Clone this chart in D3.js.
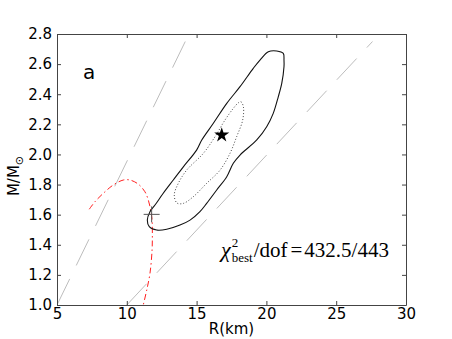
<!DOCTYPE html>
<html>
<head>
<meta charset="utf-8">
<script src="https://cdn.jsdelivr.net/npm/d3@7"></script>
<style>
  body { margin: 0; background: #fff; }
  svg { display: block; }
</style>
</head>
<body>
<script>
// axis ticks
const xTicks = [5, 10, 15, 20, 25, 30]
const yTicks = [1.0, 1.2, 1.4, 1.6, 1.8, 2.0, 2.2, 2.4, 2.6, 2.8]

// grey dashed bounds  [R, M]
const boundLeft = [[5, 1.0], [14.45, 2.8]]
const boundRight = [[10, 1.0], [27.6, 2.75]]

// red mass-radius curve
const eosCurve = [[7.31, 1.636], [7.72, 1.686], [8.32, 1.742], [9.03, 1.797], [9.75, 1.830],
  [10.23, 1.830], [10.82, 1.803], [11.30, 1.752], [11.54, 1.697], [11.71, 1.631],
  [11.81, 1.564], [11.83, 1.465], [11.81, 1.365], [11.66, 1.210], [11.43, 1.100], [11.18, 1.000]]

// outer (solid) confidence contour
const contourOuter = [[20.74, 2.687], [21.21, 2.671], [21.26, 2.627], [21.26, 2.582], [21.10, 2.472],
  [20.85, 2.383], [20.49, 2.273], [20.02, 2.184], [19.31, 2.096], [18.11, 1.996], [17.63, 1.941],
  [17.16, 1.852], [16.44, 1.764], [15.72, 1.675], [15.24, 1.620], [14.53, 1.564], [13.81, 1.531],
  [12.86, 1.503], [12.14, 1.498], [11.61, 1.520], [11.47, 1.564], [11.66, 1.620], [12.02, 1.664],
  [12.61, 1.742], [13.33, 1.830], [14.05, 1.918], [15.00, 2.029], [15.37, 2.096], [16.20, 2.207],
  [17.16, 2.339], [18.11, 2.450], [19.06, 2.572], [19.54, 2.627], [20.14, 2.682]]

// inner (dotted) contour
const contourInner = [[17.99, 2.343], [18.18, 2.350], [18.35, 2.317], [18.30, 2.228], [17.87, 2.118],
  [17.39, 2.007], [16.68, 1.896], [15.72, 1.808], [14.76, 1.719], [14.05, 1.675], [13.60, 1.677],
  [13.40, 1.730], [13.69, 1.808], [14.29, 1.896], [15.48, 2.007], [16.32, 2.118], [17.03, 2.228],
  [17.63, 2.306]]

const bestFit = [16.80, 2.129]
const crossPoint = [11.78, 1.602]

const width = 452, height = 339
const margin = {top: 34, right: 46, bottom: 34, left: 57}
const w = width - margin.left - margin.right
const h = height - margin.top - margin.bottom

const svg = d3.select('body').append('svg')
    .attr('width', width)
    .attr('height', height)

const x = d3.scaleLinear().domain([5, 30]).range([0, w])
const y = d3.scaleLinear().domain([1.0, 2.8]).range([h, 0])

svg.append('defs').append('clipPath').attr('id', 'clip')
    .append('rect').attr('width', w).attr('height', h)

const g = svg.append('g').attr('transform', `translate(${margin.left},${margin.top})`)
const plot = g.append('g').attr('clip-path', 'url(#clip)')

const line = d3.line().x(d => x(d[0])).y(d => y(d[1]))
const closed = d3.line().x(d => x(d[0])).y(d => y(d[1])).curve(d3.curveCatmullRomClosed)

// grey dashed lines
;[boundLeft, boundRight].forEach(b => {
    plot.append('path')
        .attr('d', line(b))
        .attr('fill', 'none')
        .attr('stroke', '#bdbdbd')
        .attr('stroke-width', 1)
        .attr('stroke-dasharray', '29,15')
})

// red dash-dot
plot.append('path')
    .attr('d', d3.line().x(d => x(d[0])).y(d => y(d[1])).curve(d3.curveCatmullRom)(eosCurve))
    .attr('fill', 'none')
    .attr('stroke', '#ff2020')
    .attr('stroke-width', 1)
    .attr('stroke-dasharray', '6,3,1.5,3')

plot.append('path')
    .attr('d', closed(contourOuter))
    .attr('fill', 'none')
    .attr('stroke', '#111')
    .attr('stroke-width', 1.1)

plot.append('path')
    .attr('d', closed(contourInner))
    .attr('fill', 'none')
    .attr('stroke', '#444')
    .attr('stroke-width', 1)
    .attr('stroke-dasharray', '1,2')

// cross marker
const cx = x(crossPoint[0]), cy = y(crossPoint[1])
plot.append('path')
    .attr('d', `M${cx - 8},${cy}H${cx + 8}M${cx},${cy - 8}V${cy + 8}`)
    .attr('stroke', '#555')
    .attr('stroke-width', 1)

// best fit star
plot.append('path')
    .attr('d', d3.symbol().type(d3.symbolStar).size(70)())
    .attr('transform', `translate(${x(bestFit[0])},${y(bestFit[1])})`)
    .attr('fill', '#000')

// axes
const frame = '#444'
const styleAxis = (sel) => {
    sel.select('.domain').attr('stroke', frame)
    sel.selectAll('.tick line').attr('stroke', frame)
    sel.selectAll('text').attr('fill', '#000')
        .attr('font-family', 'DejaVu Sans').attr('font-size', 15)
}
g.append('g').attr('transform', `translate(0,${h})`)
    .call(d3.axisBottom(x).tickValues(xTicks).tickSizeInner(-4).tickSizeOuter(0).tickPadding(3).tickFormat(d3.format('d')))
    .call(styleAxis)
g.append('g')
    .call(d3.axisLeft(y).tickValues(yTicks).tickSizeInner(-4).tickSizeOuter(0).tickPadding(5).tickFormat(d3.format('.1f')))
    .call(styleAxis)
g.append('g')
    .call(d3.axisTop(x).tickValues(xTicks).tickSizeInner(-4).tickSizeOuter(0).tickFormat(''))
    .call(styleAxis)
g.append('g').attr('transform', `translate(${w},0)`)
    .call(d3.axisRight(y).tickValues(yTicks).tickSizeInner(-4).tickSizeOuter(0).tickFormat(''))
    .call(styleAxis)
g.selectAll('.domain').attr('stroke-width', 1)

// labels
svg.append('text')
    .attr('x', margin.left + w / 2).attr('y', 334)
    .attr('text-anchor', 'middle')
    .attr('font-family', 'DejaVu Sans').attr('font-size', 15)
    .text('R(km)')

const yl = svg.append('text')
    .attr('transform', 'translate(19,176) rotate(-90)')
    .attr('text-anchor', 'middle')
    .attr('font-family', 'DejaVu Sans').attr('font-size', 15)
yl.append('tspan').text('M/M')
yl.append('tspan').attr('font-size', 11).attr('dy', 4).text('\u2299')

svg.append('text')
    .attr('x', 83).attr('y', 79)
    .attr('font-family', 'DejaVu Sans').attr('font-size', 20)
    .text('a')

// chi^2 annotation, pieces placed one after another
const chi = svg.append('g').attr('font-family', 'Liberation Serif').attr('fill', '#000')
const base = 257
let cur = 221
const piece = (txt, size, dy, opts = {}) => {
    const t = chi.append('text').attr('x', cur).attr('y', base + dy).attr('font-size', size).text(txt)
    if (opts.italic) t.attr('font-style', 'italic')
    return t.node().getComputedTextLength()
}
cur += piece('\u03c7', 22, 0, {italic: true}) + 1
const wSup = piece('2', 13, -10)
const wSub = piece('best', 13, 5)
cur += Math.max(wSup, wSub) + 1
cur += piece('/dof', 21, 0) + 3
cur += piece('=', 21, 0) + 2
piece('432.5/443', 21, 0)
</script>
</body>
</html>
